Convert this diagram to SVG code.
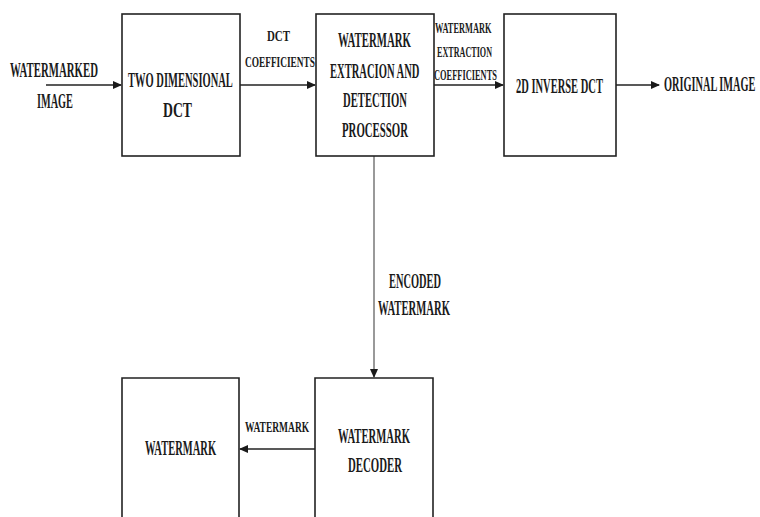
<svg xmlns="http://www.w3.org/2000/svg" width="760" height="517" viewBox="0 0 760 517">
<defs>
<marker id="ah" markerWidth="9" markerHeight="8" refX="8" refY="4" orient="auto" markerUnits="userSpaceOnUse">
<path d="M0,0 L9,4 L0,8 Z" fill="#1a1a1a"/>
</marker>
</defs>
<style>
.box{fill:#fff;stroke:#222;stroke-width:1.6}
.wire{fill:none;stroke:#222;stroke-width:1.6}
.vwire{fill:none;stroke:#555;stroke-width:1.2}
.t{font-size:20px}
.s{font-size:14px}
</style>
<rect width="760" height="517" fill="#fff"/>
<g font-family="'Liberation Serif', 'Times New Roman', 'DejaVu Serif', serif" font-weight="bold" fill="#1a1a1a">
<g id="connectors">
<line class="wire" x1="46" y1="85" x2="121" y2="85" marker-end="url(#ah)"/>
<line class="wire" x1="240" y1="85" x2="315" y2="85" marker-end="url(#ah)"/>
<line class="wire" x1="434" y1="85" x2="503" y2="85" marker-end="url(#ah)"/>
<line class="wire" x1="616" y1="85" x2="659" y2="85" marker-end="url(#ah)"/>
<line class="vwire" x1="374" y1="156" x2="374" y2="377" marker-end="url(#ah)"/>
<line class="wire" x1="315" y1="449" x2="240" y2="449" marker-end="url(#ah)"/>
<text class="t" transform="translate(10,77) scale(0.54,1)">WATERMARKED</text>
<text class="t" transform="translate(37,108) scale(0.514,1)">IMAGE</text>
<text class="s" transform="translate(267,41) scale(0.778,1)">DCT</text>
<text class="s" transform="translate(245,67) scale(0.667,1)">COEFFICIENTS</text>
<text class="s" transform="translate(435,33) scale(0.597,1)">WATERMARK</text>
<text class="s" transform="translate(437,57) scale(0.58,1)">EXTRACTION</text>
<text class="s" transform="translate(434,80) scale(0.6,1)">COEFFICIENTS</text>
<text class="t" transform="translate(664,91) scale(0.516,1)">ORIGINAL IMAGE</text>
<text class="t" transform="translate(389,288) scale(0.52,1)">ENCODED</text>
<text class="t" transform="translate(378,315) scale(0.533,1)">WATERMARK</text>
<text class="s" transform="translate(245,432) scale(0.679,1)">WATERMARK</text>
</g>
<g id="node-dct">
<rect class="box" x="122" y="14" width="118" height="142"/>
<text class="t" transform="translate(128,87) scale(0.526,1)">TWO DIMENSIONAL</text>
<text class="t" transform="translate(163,117) scale(0.687,1)">DCT</text>
</g>
<g id="node-processor">
<rect class="box" x="316" y="14" width="118" height="142"/>
<text class="t" transform="translate(338,47) scale(0.54,1)">WATERMARK</text>
<text class="t" transform="translate(330,78) scale(0.528,1)">EXTRACION AND</text>
<text class="t" transform="translate(343,107) scale(0.533,1)">DETECTION</text>
<text class="t" transform="translate(342,137) scale(0.54,1)">PROCESSOR</text>
</g>
<g id="node-idct">
<rect class="box" x="504" y="14" width="112" height="142"/>
<text class="t" transform="translate(516,93) scale(0.525,1)">2D INVERSE DCT</text>
</g>
<g id="node-decoder">
<path class="box" d="M315,517 V378 H433 V517"/>
<text class="t" transform="translate(338,443) scale(0.533,1)">WATERMARK</text>
<text class="t" transform="translate(348,472) scale(0.54,1)">DECODER</text>
</g>
<g id="node-watermark">
<path class="box" d="M122,517 V378 H239 V517"/>
<text class="t" transform="translate(145,455) scale(0.526,1)">WATERMARK</text>
</g>
</g>
</svg>
